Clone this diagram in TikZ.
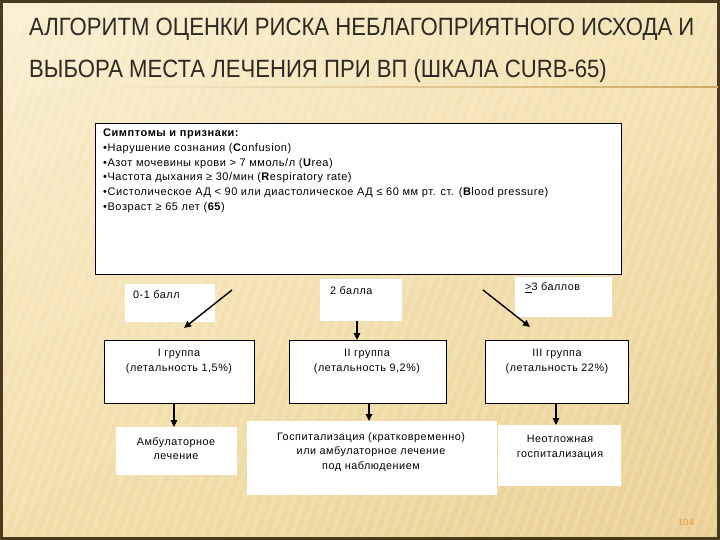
\documentclass[tikz,border=0pt]{standalone}
\usepackage{fontspec}
\setmainfont{Liberation Sans}[LetterSpace=5]
\newfontfamily\titlefont{Liberation Sans}[FakeStretch=0.885]
\usetikzlibrary{arrows.meta,shadings}
\definecolor{bgUL}{HTML}{F9EFD0}
\definecolor{bgUR}{HTML}{F4E4B6}
\definecolor{bgLL}{HTML}{F2DEA8}
\definecolor{bgLR}{HTML}{EAD093}
\definecolor{framec}{HTML}{4B3B1E}
\definecolor{titlec}{HTML}{2E2A24}
\definecolor{rulec}{HTML}{CDAA66}
\definecolor{pagec}{HTML}{E39B34}
\tikzset{
  fbox/.style={draw=black, line width=1pt, fill=white, inner sep=0pt, anchor=north west},
  wbox/.style={fill=white, draw=none, inner sep=0pt, anchor=north west},
  btext/.style={inner sep=0pt, align=center, anchor=north, font=\fontsize{10.8}{14.6}\selectfont},
  ltext/.style={inner sep=0pt, anchor=west, font=\fontsize{10.8}{14.6}\selectfont},
  arr/.style={-{Triangle[length=7pt,width=6.5pt]}, line width=1.4pt, black},
  ttl/.style={inner sep=0pt, anchor=base west, text=titlec, font=\titlefont\fontsize{25}{25}\selectfont}
}
\begin{document}
\begin{tikzpicture}[x=1pt,y=-1pt]
\useasboundingbox (0,0) rectangle (720,540);
% background
\shade[upper left=bgUL, upper right=bgUR, lower left=bgLL, lower right=bgLR] (0,0) rectangle (720,540);
\begin{scope}
  \clip (0,0) rectangle (720,540);
  \foreach \i in {-200,-190,...,720}
    \draw[white, opacity=0.16, line width=3pt] (\i,540) -- (\i+190,0);
\end{scope}
\draw[framec, line width=3pt] (1.5,1.5) rectangle (718.5,538.5);
% title
\node[ttl] (t1) at (29,36) {АЛГОРИТМ ОЦЕНКИ РИСКА НЕБЛАГОПРИЯТНОГО ИСХОДА И};
\node[ttl] (t2) at (29,77.5) {ВЫБОРА МЕСТА ЛЕЧЕНИЯ ПРИ ВП (ШКАЛА CURB-65)};
\shade[left color=bgUL, right color=rulec] (60,86.5) rectangle (718,88);
% symptoms
\node[fbox, minimum width=526pt, minimum height=151pt] (sym) at (95,123) {};
\node[inner sep=0pt, anchor=north west, align=left, font=\fontsize{11}{14.7}\selectfont] (symt) at (103,129)
{\textbf{Симптомы и признаки:}\\
•Нарушение сознания (\textbf{C}onfusion)\\
•Азот мочевины крови > 7 ммоль/л (\textbf{U}rea)\\
•Частота дыхания ≥ 30/мин (\textbf{R}espiratory rate)\\
•Систолическое АД < 90 или диастолическое АД ≤ 60 мм рт. ст. (\textbf{B}lood pressure)\\
•Возраст ≥ 65 лет (\textbf{65})};
% score boxes
\node[wbox, minimum width=90pt, minimum height=38pt] (s1) at (125,284) {};
\node[ltext] (s1t) at (133,295) {0-1 балл};
\node[wbox, minimum width=82pt, minimum height=42pt] (s2) at (320,279) {};
\node[ltext] (s2t) at (330,291) {2 балла};
\node[wbox, minimum width=97pt, minimum height=40pt] (s3) at (515,277) {};
\node[ltext] (s3t) at (525,288) {\underline{>}3 баллов};
% group boxes
\node[fbox, minimum width=150pt, minimum height=63pt] (g1) at (104,340) {};
\node[btext] (g1t) at (179,349) {I группа\\(летальность 1,5\%)};
\node[fbox, minimum width=157pt, minimum height=63pt] (g2) at (289,340) {};
\node[btext] (g2t) at (367,349) {II группа\\(летальность 9,2\%)};
\node[fbox, minimum width=143pt, minimum height=63pt] (g3) at (485,340) {};
\node[btext] (g3t) at (557,349) {III группа\\(летальность 22\%)};
% outcome boxes
\node[wbox, minimum width=121pt, minimum height=48pt] (o1) at (116,427) {};
\node[btext] (o1t) at (176,437) {Амбулаторное\\лечение};
\node[wbox, minimum width=250pt, minimum height=74pt] (o2) at (247,421) {};
\node[btext] (o2t) at (371,432) {Госпитализация (кратковременно)\\или амбулаторное лечение\\под наблюдением};
\node[wbox, minimum width=123pt, minimum height=61pt] (o3) at (498,425) {};
\node[btext] (o3t) at (560,435) {Неотложная\\госпитализация};
% arrows
\coordinate (a1s) at (232,290);
\coordinate (a1e) at (184,328);
\coordinate (a3s) at (483,290);
\coordinate (a3e) at (530,327);
\draw[arr] (a1s) -- (a1e);
\draw[arr] (a3s) -- (a3e);
\draw[arr] (s2.south -| 357,0) -- (g2.north -| 357,0);
\draw[arr] (g1.south -| 174,0) -- (o1.north -| 174,0);
\draw[arr] (g2.south -| 369,0) -- (o2.north -| 369,0);
\draw[arr] (g3.south -| 556,0) -- (o3.north -| 556,0);
% page number
\node[inner sep=0pt, text=pagec, font=\fontsize{9}{9}\selectfont] (pn) at (686,522) {104};
\end{tikzpicture}
\end{document}
